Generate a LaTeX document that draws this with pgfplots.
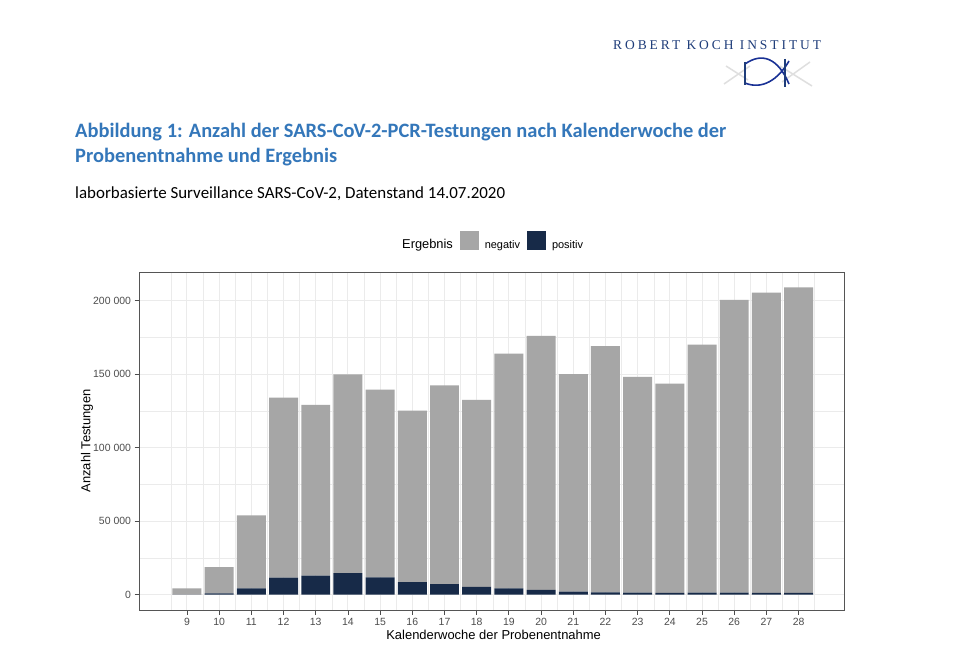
\documentclass[border=0pt]{standalone}
\usepackage{pgfplots}
\pgfplotsset{compat=1.18}
\usepackage{fontspec}
\setmainfont{Liberation Sans}
\newfontfamily\titlefont{Carlito}
\newfontfamily\logofont[LetterSpace=22]{Liberation Serif}
\definecolor{negc}{HTML}{A6A6A6}
\definecolor{posc}{HTML}{172A48}
\definecolor{titleblue}{HTML}{3477BA}
\definecolor{logoblue}{HTML}{1F3D7A}
\definecolor{gridc}{HTML}{EBEBEB}
\definecolor{tickc}{HTML}{4D4D4D}
\definecolor{borderc}{HTML}{555555}
\begin{document}
\begin{tikzpicture}[x=1bp,y=1bp]
\fill[white] (0,0) rectangle (960,-660);
% logo
\node[anchor=base west, inner sep=0, text=logoblue, font=\logofont\fontsize{13.5}{16}\selectfont] at (613,-49.5) {ROBERT KOCH INSTITUT};
\draw[gray!25, line width=1.5bp] (724,-84) -- (750,-66);
\draw[gray!25, line width=1.5bp] (726,-66) -- (748,-80);
\draw[gray!25, line width=1.5bp] (780,-66) -- (812,-86);
\draw[gray!25, line width=1.5bp] (782,-82) -- (810,-62);
\draw[logoblue!80!blue, line width=1.6bp] (745,-64) .. controls (762,-52) and (778,-58) .. (789,-84);
\draw[logoblue!80!blue, line width=1.6bp] (745,-83) .. controls (762,-90) and (778,-80) .. (789,-61);
\draw[logoblue, line width=1.2bp] (745,-62) -- (745,-85);
\draw[logoblue, line width=1.2bp] (785,-59) -- (785,-87);
% titles
\node[anchor=base west, inner sep=0, text=titleblue, font=\titlefont\bfseries\fontsize{20.5}{24}\selectfont] at (75,-138) {Abbildung 1: Anzahl der SARS-CoV-2-PCR-Testungen nach Kalenderwoche der};
\node[anchor=base west, inner sep=0, text=titleblue, font=\titlefont\bfseries\fontsize{20.5}{24}\selectfont] at (75,-163) {Probenentnahme und Ergebnis};
\node[anchor=base west, inner sep=0, text=black, font=\titlefont\fontsize{17}{20}\selectfont] at (75,-198) {laborbasierte Surveillance SARS-CoV-2, Datenstand 14.07.2020};
\begin{axis}[
  at={(139bp,-610bp)}, anchor=south west,
  scale only axis, width=705bp, height=338bp,
  xmin=7.51, xmax=29.41, ymin=-10450, ymax=219450,
  ybar stacked, bar width=0.9,
  xtick={9,10,...,28},
  minor xtick={8.5,9.5,...,28.5},
  ytick={0,50000,100000,150000,200000},
  yticklabels={0,{50 000},{100 000},{150 000},{200 000}},
  scaled y ticks=false,
  minor ytick={25000,75000,125000,175000},
  grid=both,
  major grid style={gridc, line width=1bp},
  minor grid style={gridc, line width=0.5bp},
  axis line style={borderc, line width=0.8bp},
  tick align=outside, major tick length=4.5bp, minor tick length=0pt,
  tick style={tickc, line width=0.8bp},
  xtick pos=lower, ytick pos=left,
  ticklabel style={font=\fontsize{10.5}{12}\selectfont, text=tickc, /pgf/number format/assume math mode=true},
  xlabel={Kalenderwoche der Probenentnahme},
  ylabel={Anzahl Testungen},
  label style={font=\fontsize{13}{15}\selectfont},
  xlabel style={at={(axis description cs:0.503,0)}, anchor=center, yshift=-25bp},
  ylabel style={at={(axis description cs:-0.0738,0.5)}, anchor=center},
  legend style={at={(axis description cs:0.497,1.092)}, anchor=center, draw=none, fill=none,
    legend columns=-1, font=\fontsize{11}{13}\selectfont,
    nodes={inner sep=0pt},
    /tikz/every even column/.style={column sep=7bp},
    /tikz/every odd column/.style={column sep=6.5bp}},
]
\addlegendimage{empty legend}
\addlegendentry{\fontsize{12.9}{14}\selectfont Ergebnis}
\addlegendimage{legend image code/.code={\fill[negc] (0bp,-4.5bp) rectangle (18bp,13.5bp);}}
\addlegendentry{negativ}
\addlegendimage{legend image code/.code={\fill[posc] (0bp,-4.5bp) rectangle (18bp,13.5bp);}}
\addlegendentry{positiv}
\addplot[fill=posc, draw=none] coordinates {
(9,100) (10,900) (11,4200) (12,11500) (13,13000) (14,14700) (15,11700) (16,8500) (17,7200) (18,5300)
(19,4200) (20,3200) (21,2000) (22,1600) (23,1300) (24,1200) (25,1300) (26,1300) (27,1200) (28,1200)};
\addplot[fill=negc, draw=none] coordinates {
(9,4100) (10,17800) (11,49800) (12,122500) (13,116000) (14,135100) (15,127700) (16,116700) (17,135100) (18,127100)
(19,159800) (20,172800) (21,148000) (22,167400) (23,146900) (24,142300) (25,168700) (26,199200) (27,204300) (28,207800)};
\end{axis}
\end{tikzpicture}
\end{document}
